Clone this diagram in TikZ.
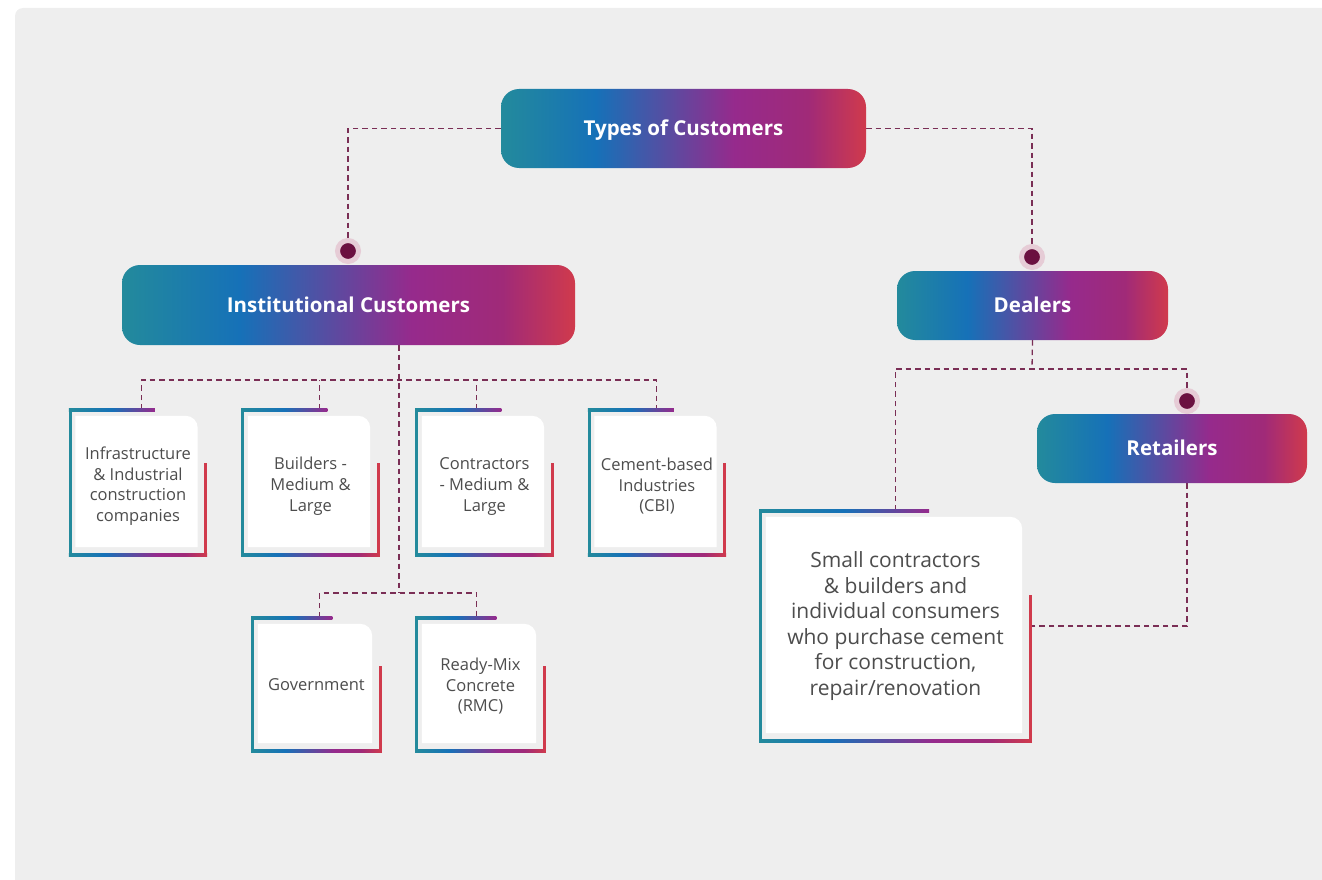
\documentclass[tikz,border=0pt]{standalone}
\usepackage{fontspec}
\setmainfont{Open Sans}
\usetikzlibrary{calc,backgrounds}
\definecolor{cteal}{HTML}{238A9C}
\definecolor{cblue}{HTML}{1671B8}
\definecolor{cpurp}{HTML}{962A8C}
\definecolor{cmag}{HTML}{A02A78}
\definecolor{cred}{HTML}{D03A4C}
\definecolor{cline}{HTML}{7A2E55}
\definecolor{cdot}{HTML}{6B1040}
\definecolor{chalo}{HTML}{E6CCD6}
\definecolor{cpanel}{HTML}{EEEEEE}
\definecolor{ctext}{HTML}{4D4D4D}
\pgfdeclarehorizontalshading{brandgrad}{100bp}{color(0bp)=(cteal); color(25bp)=(cteal); color(38bp)=(cblue); color(57bp)=(cpurp); color(67bp)=(cmag); color(75bp)=(cred); color(100bp)=(cred)}
\pgfdeclarehorizontalshading{topgrad}{100bp}{color(0bp)=(cteal); color(25bp)=(cteal); color(50bp)=(cblue); color(75bp)=(cpurp); color(100bp)=(cpurp)}
\newcommand\firststrut[1]{\rule{0pt}{#1}}
\tikzset{
  pill/.style={rounded corners=18pt, shading=brandgrad, text=white, inner sep=0pt,
    text height=14.6pt, text depth=0pt,
    font=\bfseries\fontsize{20.5}{24}\selectfont},
  card/.style={inner sep=0pt, align=center, text=ctext,
    font=\fontsize{16.5}{20.7}\selectfont},
  bigcard/.style={card, font=\fontsize{21}{25.6}\selectfont},
  conn/.style={draw=cline, line width=1.3pt, dash pattern=on 5.5pt off 4pt},
  dotnode/.style={circle, fill=cdot, draw=chalo, line width=5pt, minimum size=21pt, inner sep=0pt},
}
\newcommand\cardback[1]{%
  \fill[white] ($(#1.north west)+(5,6)$) -- ($(#1.north east)+(-20,6)$)
    .. controls ($(#1.north east)+(-13.4,6)$) and ($(#1.north east)+(-8,11.4)$) .. ($(#1.north east)+(-8,18)$)
    -- ($(#1.south east)+(-8,-8)$) -- ($(#1.south west)+(5,-8)$) -- cycle;
  \fill[cteal] ($(#1.north west)+(-1.5,-1.5)$) rectangle ($(#1.south west)+(1.5,1.5)$);
  \fill[cred] ($(#1.north east)!0.365!(#1.south east)+(-1.5,0)$) rectangle ($(#1.south east)+(1.5,1.5)$);
  \shade[shading=topgrad] ($(#1.north west)+(-1.5,-1.5)$) rectangle ($(#1.north west)!0.625!(#1.north east)+(0,1.5)$);
  \shade[shading=brandgrad] ($(#1.south west)+(-1.5,-1.5)$) rectangle ($(#1.south east)+(1.5,1.5)$);
}
\begin{document}
\begin{tikzpicture}[x=1pt, y=-1pt]
\path[use as bounding box] (0,0) rectangle (1322,880);

% headers
\node[pill, minimum width=365pt, minimum height=79pt] (top) at (683.5,128.5) {Types of Customers};
\node[pill, minimum width=453pt, minimum height=80pt] (inst) at (348.5,305) {Institutional Customers};
\node[pill, minimum width=271pt, minimum height=69pt] (dealers) at (1032.5,305.5) {Dealers};
\node[pill, minimum width=270pt, minimum height=69pt] (retail) at (1172,448.5) {Retailers};

% cards
\node[card, minimum width=135pt, minimum height=145pt] (b1) at (138,482.5) {\firststrut{20pt}Infrastructure\\\& Industrial\\construction\\companies};
\node[card, minimum width=135pt, minimum height=145pt] (b2) at (310.5,482.5) {\firststrut{20pt}Builders -\\Medium \&\\Large};
\node[card, minimum width=135pt, minimum height=145pt] (b3) at (484.5,482.5) {\firststrut{20pt}Contractors\\- Medium \&\\Large};
\node[card, minimum width=135pt, minimum height=145pt] (b4) at (657,482.5) {\firststrut{20pt}Cement-based\\Industries\\(CBI)};
\node[card, minimum width=127pt, minimum height=133pt] (g1) at (316.5,684.5) {Government};
\node[card, minimum width=127pt, minimum height=133pt] (g2) at (480.5,684.5) {\firststrut{16pt}Ready-Mix\\Concrete\\(RMC)};
\node[bigcard, minimum width=269pt, minimum height=230pt] (big) at (895.5,626) {Small contractors\\\& builders and\\individual consumers\\who purchase cement\\for construction,\\repair/renovation};

% dot positions and bus points
\coordinate (d1c) at (348,251);
\coordinate (d2c) at (1032,257);
\coordinate (d3c) at (1187,401);
\coordinate (bA) at (399,380);
\coordinate (bB) at (399,593);
\coordinate (bC) at (1032,369);

\begin{pgfonlayer}{background}
  \fill[cpanel] (15,880) -- (15,16) .. controls (15,11.6) and (18.6,8) .. (23,8) -- (1322,8) -- (1322,880) -- cycle;
  % connectors
  \draw[conn] (top.west) -| (d1c);
  \draw[conn] (top.east) -| (d2c);
  \draw[conn] (inst.south -| bB) -- (bB);
  \draw[conn] ($(b1.north west)+(71,0)$) |- (bA) -| ($(b4.north west)+(67,0)$);
  \draw[conn] ($(b2.north west)+(77,0)$) -- ($(b2.north west)+(77,-30)$);
  \draw[conn] ($(b3.north west)+(60,0)$) -- ($(b3.north west)+(60,-30)$);
  \draw[conn] ($(g1.north west)+(67,0)$) |- (bB) -| ($(g2.north west)+(60,0)$);
  \draw[conn] (dealers.south) -- (bC);
  \draw[conn] (big.north) |- (bC) -| (d3c);
  \draw[conn] (retail.south -| d3c) |- (big.east);
  % card backs
  \cardback{b1}\cardback{b2}\cardback{b3}\cardback{b4}
  \cardback{g1}\cardback{g2}\cardback{big}
\end{pgfonlayer}

\node[dotnode] (d1) at (d1c) {};
\node[dotnode] (d2) at (d2c) {};
\node[dotnode] (d3) at (d3c) {};
\end{tikzpicture}
\end{document}
